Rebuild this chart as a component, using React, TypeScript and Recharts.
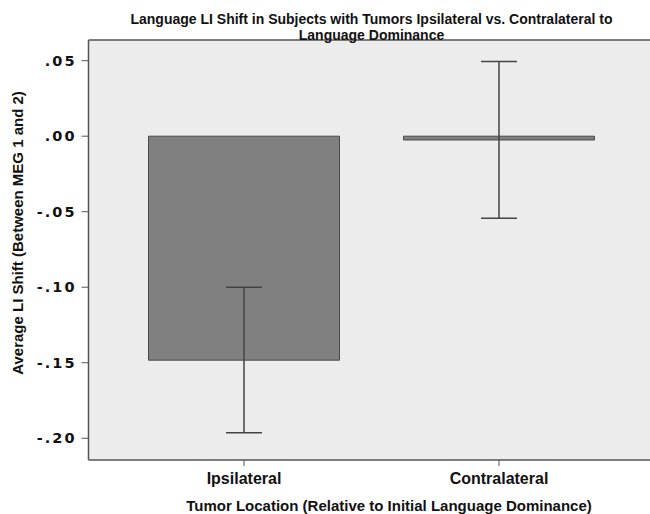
import {
  Bar,
  BarChart,
  CartesianGrid,
  ErrorBar,
  ReferenceLine,
  XAxis,
  YAxis,
} from 'recharts';

const categories = ['Ipsilateral', 'Contralateral'];
const meanShift = [-0.1483, -0.0025];
const ciLow = [-0.1964, -0.0543];
const ciHigh = [-0.1, 0.0495];
const yTicks = [0.05, 0, -0.05, -0.1, -0.15, -0.2];

const Y_MIN = -0.2144;
const Y_MAX = 0.0637;

const data = categories.map((name, i) => ({
  name,
  shift: meanShift[i],
  err: [meanShift[i] - ciLow[i], ciHigh[i] - meanShift[i]],
}));

const font = '"Liberation Sans", Arial, sans-serif';
const ink = '#111';
const frame = '#555';

function fmt(v: number) {
  const s = Math.abs(v).toFixed(2).replace(/^0/, '');
  return v < -1e-9 ? `-${s}` : s;
}

function YTick({ x, y, payload }: any) {
  return (
    <text
      x={x - 3}
      y={y + 5}
      textAnchor="end"
      fontFamily='"DejaVu Sans", sans-serif'
      fontWeight="bold"
      fontSize={14.5}
      letterSpacing={2}
      fill={ink}
    >
      {fmt(payload.value)}
    </text>
  );
}

function XTick({ x, payload }: any) {
  return (
    <text
      x={x}
      y={484}
      textAnchor="middle"
      fontFamily={font}
      fontWeight="bold"
      fontSize={16}
      fill={ink}
    >
      {payload.value}
    </text>
  );
}

export default function App() {
  return (
    <div
      style={{
        position: 'absolute',
        left: 0,
        top: 0,
        width: 650,
        height: 514,
        overflow: 'hidden',
        background: '#fff',
      }}
    >
      <div
        style={{
          position: 'absolute',
          left: 71.5,
          top: 11,
          width: 600,
          textAlign: 'center',
          fontFamily: font,
          fontWeight: 'bold',
          fontSize: 14,
          lineHeight: '16px',
          whiteSpace: 'nowrap',
          color: ink,
          zIndex: 2,
        }}
      >
        Language LI Shift in Subjects with Tumors Ipsilateral vs. Contralateral to
        <br />
        Language Dominance
      </div>
      <BarChart
        width={660}
        height={514}
        data={data}
        margin={{ top: 40, right: 5.5, bottom: 0, left: 28.5 }}
      >
        <CartesianGrid
          fill="#ececec"
          stroke="none"
          horizontal={false}
          vertical={false}
        />
        <XAxis
          dataKey="name"
          height={54}
          padding={{ left: 28, right: 28 }}
          tickSize={6}
          axisLine={{ stroke: frame, strokeWidth: 1.5 }}
          tickLine={{ stroke: frame }}
          tick={<XTick />}
          label={{
            value: 'Tumor Location (Relative to Initial Language Dominance)',
            content: ({ viewBox }: any) => (
              <text
                x={viewBox.x + viewBox.width / 2 + 17.5}
                y={510.5}
                textAnchor="middle"
                fontFamily={font}
                fontWeight="bold"
                fontSize={15}
                fill={ink}
              >
                Tumor Location (Relative to Initial Language Dominance)
              </text>
            ),
          }}
        />
        <YAxis
          type="number"
          width={60}
          domain={[Y_MIN, Y_MAX]}
          allowDataOverflow
          ticks={yTicks}
          interval={0}
          tickSize={7}
          axisLine={{ stroke: frame, strokeWidth: 1.5 }}
          tickLine={{ stroke: frame }}
          tick={<YTick />}
          label={{
            value: 'Average LI Shift (Between MEG 1 and 2)',
            content: () => (
              <text
                x={23}
                y={233}
                transform="rotate(-90 23 233)"
                textAnchor="middle"
                fontFamily={font}
                fontWeight="bold"
                fontSize={15}
                fill={ink}
              >
                Average LI Shift (Between MEG 1 and 2)
              </text>
            ),
          }}
        />
        <ReferenceLine y={Y_MAX} stroke={frame} strokeWidth={1.5} />
        <Bar
          dataKey="shift"
          barSize={191}
          fill="#808080"
          stroke="#4a4a4a"
          strokeWidth={1}
          isAnimationActive={false}
        >
          <ErrorBar
            dataKey="err"
            direction="y"
            width={18}
            stroke="#444"
            strokeWidth={1.5}
            isAnimationActive={false}
          />
        </Bar>
      </BarChart>
    </div>
  );
}
